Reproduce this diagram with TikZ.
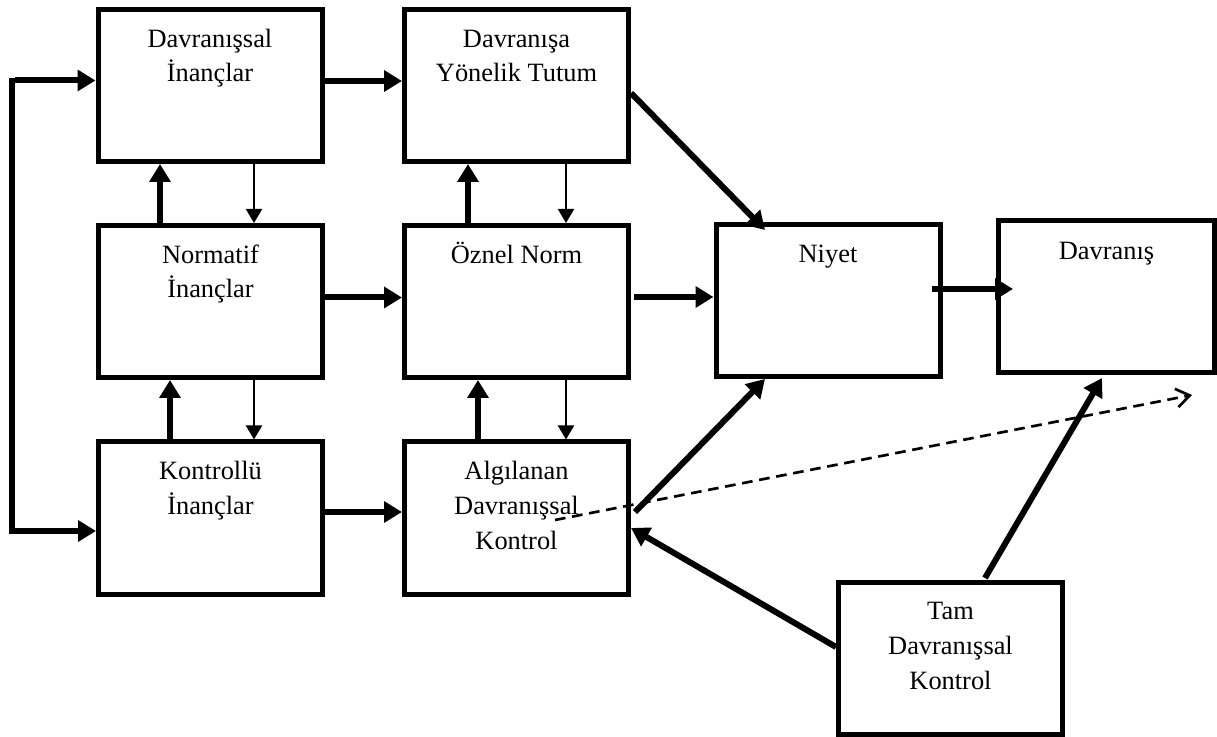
\documentclass[tikz,border=0pt]{standalone}
\usepackage{fontspec}
\setmainfont{Liberation Serif}
\usetikzlibrary{arrows.meta,calc}
\begin{document}
\begin{tikzpicture}[x=0.75pt,y=-0.75pt,
  box/.style={draw, line width=3.75pt, minimum width=168pt, minimum height=114pt, inner sep=0pt},
  lbl/.style={font=\fontsize{19.8}{26}\selectfont, align=center, inner sep=0pt, anchor=north},
  thk/.style={line width=4.5pt, -{Triangle[length=13.5pt,width=15.5pt]}},
  thn/.style={line width=1.6pt, -{Triangle[length=10.5pt,width=12pt]}},
  dsh/.style={line width=2pt, dash pattern=on 8pt off 5pt, -{Straight Barb[length=10pt,width=14pt]}},
  frame/.style={line width=4.5pt}]
\useasboundingbox (0,0) rectangle (1217,737);

% boxes
\node[box] (DI) at (210,85.5) {};
\node[box] (DT) at (516.5,85.5) {};
\node[box] (NI) at (210.5,301.5) {};
\node[box] (ON) at (516.5,301.5) {};
\node[box] (NY) at (828,301) {};
\node[box, minimum width=162pt] (DV) at (1106.5,296.5) {};
\node[box] (KI) at (210.5,518) {};
\node[box] (AD) at (516.5,518) {};
\node[box] (TD) at (950.5,658) {};

% labels
\node[lbl] (DIt) at ($(DI.north)+(0,15.7)$) {\strut Davranışsal\\İnançlar};
\node[lbl] (DTt) at ($(DT.north)+(0,15.7)$) {\strut Davranışa\\Yönelik Tutum};
\node[lbl] (NIt) at ($(NI.north)+(0,15.7)$) {\strut Normatif\\İnançlar};
\node[lbl] (ONt) at ($(ON.north)+(0,15.7)$) {\strut Öznel Norm};
\node[lbl] (NYt) at ($(NY.north)+(0,15.7)$) {\strut Niyet};
\node[lbl] (DVt) at ($(DV.north)+(0,16.7)$) {\strut Davranış};
\node[lbl] (KIt) at ($(KI.north)+(0,15.7)$) {\strut Kontrollü\\İnançlar};
\node[lbl] (ADt) at ($(AD.north)+(0,15.7)$) {\strut Algılanan\\Davranışsal\\Kontrol};
\node[lbl] (TDt) at ($(TD.north)+(0,15.7)$) {\strut Tam\\Davranışsal\\Kontrol};

% helper coordinates
\coordinate (ftop) at (12,78.5);
\coordinate (fbot) at (12,533.5);
\coordinate (a1) at (15,80.5);
\coordinate (a2) at (15,531);
\coordinate (x160) at (160,0);
\coordinate (x170) at (170,0);
\coordinate (x254) at (254,0);
\coordinate (x468) at (468,0);
\coordinate (x478) at (478,0);
\coordinate (x566) at (566,0);
\coordinate (y81) at (0,81);
\coordinate (y297) at (0,297.5);
\coordinate (y512) at (0,512);
\coordinate (onS) at (634,297);
\coordinate (nyS) at (932,289);
\coordinate (dvE) at (1013,289);
\coordinate (dtS) at (631,93);
\coordinate (nyN) at (765,230);
\coordinate (adS) at (635,512);
\coordinate (nyB) at (765,379);
\coordinate (tdW) at (836,647);
\coordinate (adE) at (631,528);
\coordinate (tdN) at (985,578);
\coordinate (dvB) at (1102,378);
\coordinate (dA) at (555,520);
\coordinate (dB) at (1192,395);

% left frame
\draw[frame] (ftop) -- (fbot);
\draw[thk] (a1) -- (a1 -| DI.west);
\draw[thk] (a2) -- (a2 -| KI.west);

% horizontal arrows
\draw[thk] (DI.east |- y81) -- (DT.west |- y81);
\draw[thk] (NI.east |- y297) -- (ON.west |- y297);
\draw[thk] (onS) -- (onS -| NY.west);
\draw[thk] (nyS) -- (dvE);
\draw[thk] (KI.east |- y512) -- (AD.west |- y512);

% vertical arrows
\draw[thk] (x160 |- NI.north) -- (x160 |- DI.south);
\draw[thn] (x254 |- DI.south) -- (x254 |- NI.north);
\draw[thk] (x468 |- ON.north) -- (x468 |- DT.south);
\draw[thn] (x566 |- DT.south) -- (x566 |- ON.north);
\draw[thk] (x170 |- KI.north) -- (x170 |- NI.south);
\draw[thn] (x254 |- NI.south) -- (x254 |- KI.north);
\draw[thk] (x478 |- AD.north) -- (x478 |- ON.south);
\draw[thn] (x566 |- ON.south) -- (x566 |- AD.north);

% diagonal arrows
\draw[thk] (dtS) -- (nyN);
\draw[thk] (adS) -- (nyB);
\draw[thk] (tdW) -- (adE);
\draw[thk] (tdN) -- (dvB);
\draw[dsh] (dA) -- (dB);
\end{tikzpicture}
\end{document}
